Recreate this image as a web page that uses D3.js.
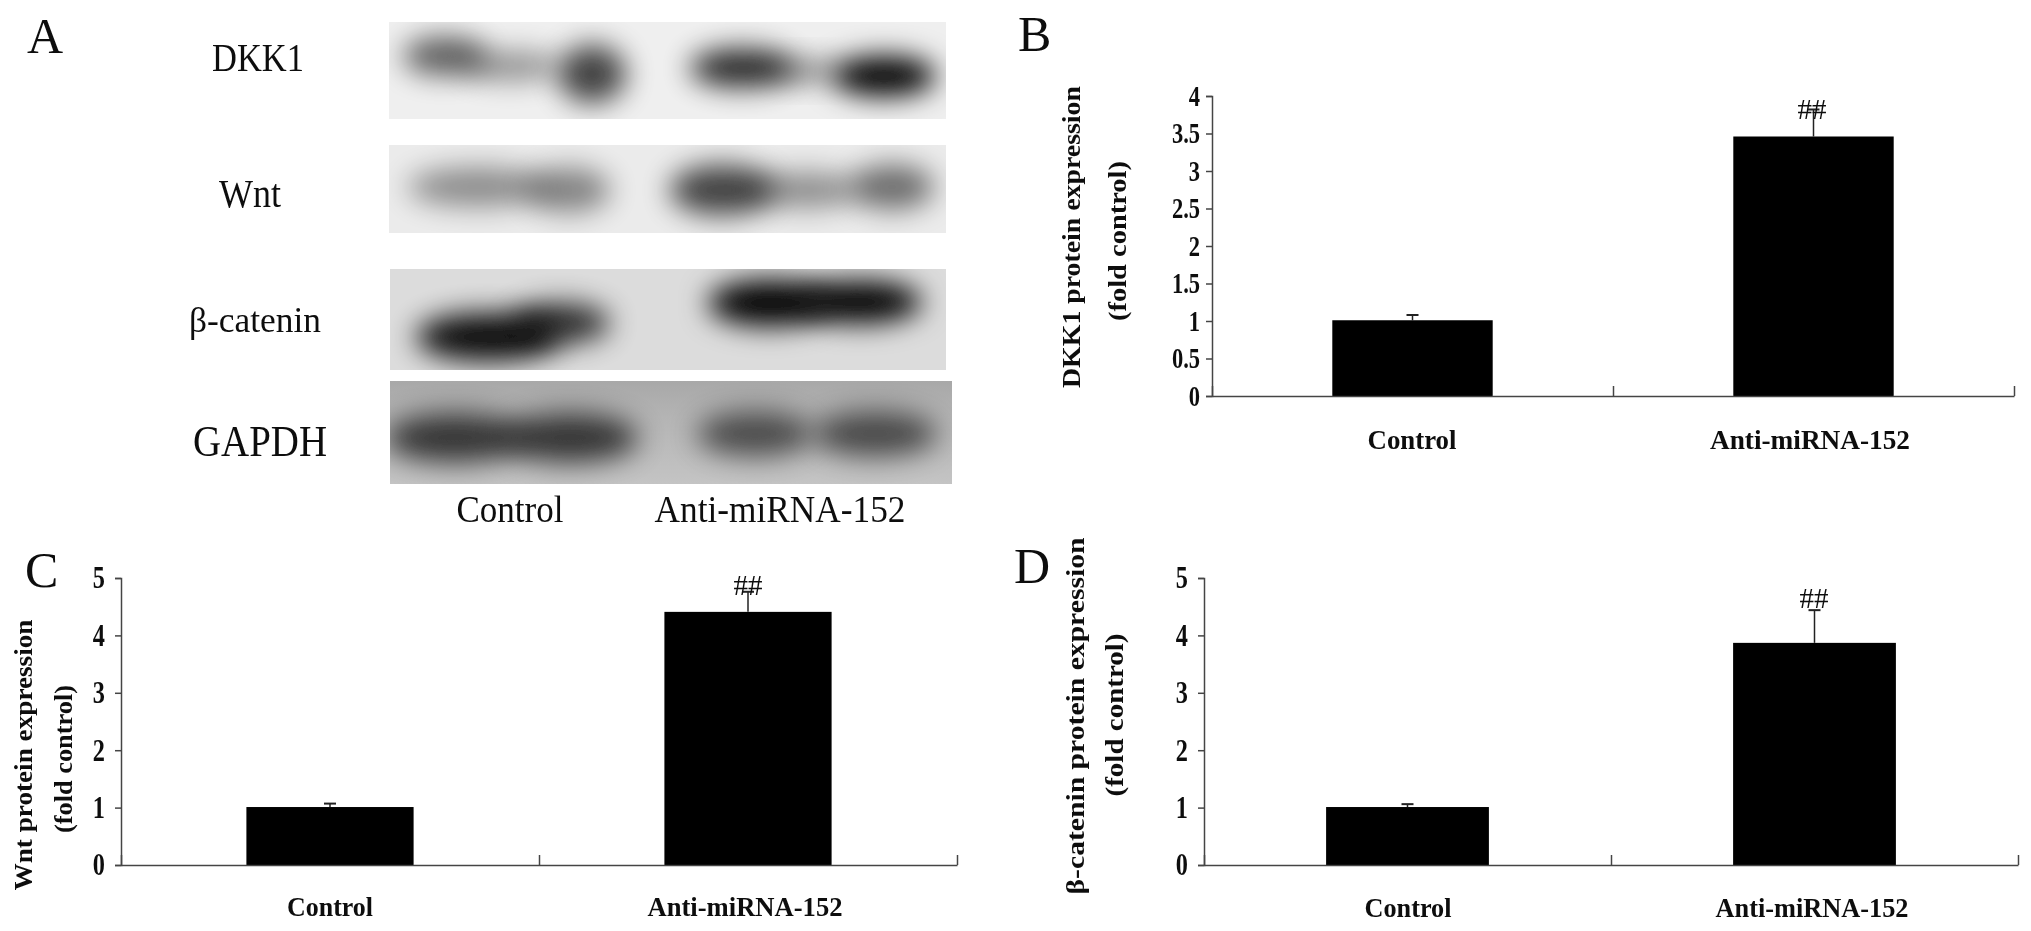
<!DOCTYPE html>
<html>
<head>
<meta charset="utf-8">
<script src="https://cdnjs.cloudflare.com/ajax/libs/d3/7.8.5/d3.min.js"></script>
<style>
html, body { margin: 0; padding: 0; background: #fff; }
svg { display: block; }
text { font-family: "Liberation Serif", serif; fill: #111; }
</style>
</head>
<body>
<div id="chart-area"></div>
<script>
var groups = ["Control", "Anti-miRNA-152"];

// fold control values
var dkk1Values = [1.01, 3.46];
var dkk1Errors = [0.07, 0.36];
var wntValues = [1.01, 4.41];
var wntErrors = [0.06, 0.35];
var cateninValues = [1.01, 3.87];
var cateninErrors = [0.05, 0.57];

var dkk1Ticks = [0, 0.5, 1, 1.5, 2, 2.5, 3, 3.5, 4];
var fiveTicks = [0, 1, 2, 3, 4, 5];

var blotNames = ["DKK1", "Wnt", "\u03b2-catenin", "GAPDH"];
// how dark each band patch on the film looks, 0 to 1
var dkk1Bands = [0.62, 0.42, 0.72, 0.85, 0.5, 1];
var wntBands = [0.42, 0.45, 0.72, 0.42, 0.55];
var cateninBands = [0.95, 0.8, 1, 1];
var gapdhBands = [0.72, 0.72, 0.6, 0.62];

var width = 2031, height = 931;

var svg = d3.select("#chart-area").append("svg")
    .attr("width", width)
    .attr("height", height);

var defs = svg.append("defs");
defs.append("filter").attr("id", "soft")
    .attr("x", "-5%").attr("y", "-5%").attr("width", "110%").attr("height", "110%")
    .append("feGaussianBlur").attr("stdDeviation", 0.6);
defs.append("filter").attr("id", "band")
    .attr("x", "-80%").attr("y", "-120%").attr("width", "260%").attr("height", "340%")
    .append("feGaussianBlur").attr("stdDeviation", 14);

var gapdhFade = defs.append("linearGradient").attr("id", "gapdhFade")
    .attr("x1", 0).attr("y1", 0).attr("x2", 0).attr("y2", 1);
gapdhFade.append("stop").attr("offset", 0).attr("stop-color", "#a8a8a8");
gapdhFade.append("stop").attr("offset", 0.35).attr("stop-color", "#b4b4b4");
gapdhFade.append("stop").attr("offset", 1).attr("stop-color", "#c4c4c4");

var page = svg.append("g").attr("filter", "url(#soft)");

// panel A, the blots
function drawBlot(i, box, bg, bands, spots) {
    var id = "clip" + i;
    defs.append("clipPath").attr("id", id).append("rect")
        .attr("x", box[0]).attr("y", box[1]).attr("width", box[2]).attr("height", box[3]);
    var g = page.append("g").attr("clip-path", "url(#" + id + ")");
    g.append("rect")
        .attr("x", box[0]).attr("y", box[1]).attr("width", box[2]).attr("height", box[3])
        .attr("fill", bg);
    g.selectAll("ellipse").data(bands).enter().append("ellipse")
        .attr("cx", function(d, k) { return spots[k][0]; })
        .attr("cy", function(d, k) { return spots[k][1]; })
        .attr("rx", function(d, k) { return spots[k][2]; })
        .attr("ry", function(d, k) { return spots[k][3]; })
        .attr("fill", "#000")
        .attr("opacity", function(d) { return d; })
        .attr("filter", "url(#band)");
}

drawBlot(0, [389, 22, 557, 97], "#efefef", dkk1Bands,
    [[445, 56, 42, 19], [510, 66, 50, 14], [592, 74, 34, 29], [742, 68, 52, 19], [806, 71, 36, 10], [884, 76, 52, 20]]);
drawBlot(1, [389, 145, 557, 88], "#ebebeb", wntBands,
    [[478, 187, 70, 19], [568, 190, 42, 22], [722, 190, 52, 25], [804, 190, 56, 17], [892, 187, 42, 22]]);
drawBlot(2, [390, 269, 556, 101], "#dcdcdc", cateninBands,
    [[488, 337, 72, 24], [560, 323, 50, 20], [770, 303, 62, 23], [860, 302, 62, 21]]);
drawBlot(3, [390, 381, 562, 103], "url(#gapdhFade)", gapdhBands,
    [[455, 438, 70, 24], [570, 438, 68, 24], [755, 434, 58, 22], [875, 434, 62, 22]]);

var blotLabelX = [258, 250, 255, 260];
var blotLabelY = [71, 207, 332, 456];
var blotLabelW = [92, 62, 132, 134];
var blotLabelS = [40, 40, 36, 44];
page.selectAll(".blot-name").data(blotNames).enter().append("text")
    .attr("class", "blot-name")
    .attr("x", function(d, i) { return blotLabelX[i]; })
    .attr("y", function(d, i) { return blotLabelY[i]; })
    .attr("text-anchor", "middle")
    .attr("font-size", function(d, i) { return blotLabelS[i]; })
    .attr("textLength", function(d, i) { return blotLabelW[i]; })
    .attr("lengthAdjust", "spacingAndGlyphs")
    .text(function(d) { return d; });

var laneX = [510, 780], laneW = [107, 251];
page.selectAll(".lane").data(groups).enter().append("text")
    .attr("class", "lane")
    .attr("x", function(d, i) { return laneX[i]; })
    .attr("y", 522)
    .attr("text-anchor", "middle")
    .attr("font-size", 38)
    .attr("textLength", function(d, i) { return laneW[i]; })
    .attr("lengthAdjust", "spacingAndGlyphs")
    .text(function(d) { return d; });

// bar panels
function barPanel(cfg) {
    var xScale = d3.scaleBand().domain(groups).range([cfg.x0, cfg.x1])
        .paddingInner(0.6).paddingOuter(0.3);
    var yScale = d3.scaleLinear().domain([0, cfg.max]).range([cfg.y0, cfg.y1]);
    var edge = d3.scaleLinear().domain([0, 2]).range([cfg.x0, cfg.x1]);
    var g = page.append("g");

    g.append("g").selectAll("line").data(cfg.values).enter().append("line")
        .attr("x1", function(d, i) { return xScale(groups[i]) + xScale.bandwidth() / 2; })
        .attr("x2", function(d, i) { return xScale(groups[i]) + xScale.bandwidth() / 2; })
        .attr("y1", function(d) { return yScale(d); })
        .attr("y2", function(d, i) { return yScale(d + cfg.errors[i]); })
        .attr("stroke", "#222").attr("stroke-width", 1.5);
    g.append("g").selectAll("line").data(cfg.values).enter().append("line")
        .attr("x1", function(d, i) { return xScale(groups[i]) + xScale.bandwidth() / 2 - 6; })
        .attr("x2", function(d, i) { return xScale(groups[i]) + xScale.bandwidth() / 2 + 6; })
        .attr("y1", function(d, i) { return yScale(d + cfg.errors[i]); })
        .attr("y2", function(d, i) { return yScale(d + cfg.errors[i]); })
        .attr("stroke", "#222").attr("stroke-width", 2);

    g.append("g").selectAll("rect").data(cfg.values).enter().append("rect")
        .attr("x", function(d, i) { return xScale(groups[i]); })
        .attr("y", function(d) { return yScale(d); })
        .attr("width", xScale.bandwidth())
        .attr("height", function(d) { return cfg.y0 - yScale(d); })
        .attr("fill", "#000");

    var yAxis = d3.axisLeft(yScale).tickValues(cfg.ticks).tickSize(6).tickPadding(cfg.pad)
        .tickFormat(function(d) { return d; });
    var yG = g.append("g").attr("transform", "translate(" + cfg.x0 + ",0)").call(yAxis);
    yG.selectAll("path, line").attr("stroke", "#444").attr("stroke-width", 1.5);
    yG.selectAll("text")
        .style("font-family", '"Liberation Serif", serif')
        .style("font-weight", "bold")
        .style("font-size", cfg.tickSize + "px")
        .attr("transform", function() {
            return "translate(" + (+d3.select(this).attr("x")) * 0.1 + ",0) scale(0.9,1.15)";
        });

    var xAxis = d3.axisTop(edge).tickValues([0, 1, 2]).tickSize(10).tickSizeOuter(0)
        .tickFormat(function() { return ""; });
    var xG = g.append("g").attr("transform", "translate(0," + cfg.y0 + ")").call(xAxis);
    xG.selectAll("path, line").attr("stroke", "#444").attr("stroke-width", 1.5);

    g.selectAll(".cat").data(groups).enter().append("text")
        .attr("class", "cat")
        .attr("x", function(d, i) { return cfg.catX[i]; })
        .attr("y", cfg.catY)
        .attr("text-anchor", "middle")
        .attr("font-weight", "bold")
        .attr("font-size", 28)
        .attr("textLength", function(d, i) { return cfg.catW[i]; })
        .attr("lengthAdjust", "spacingAndGlyphs")
        .text(function(d) { return d; });

    g.append("text")
        .attr("x", cfg.hash[0]).attr("y", cfg.hash[1])
        .attr("text-anchor", "middle")
        .attr("font-size", 29)
        .attr("textLength", 29)
        .attr("lengthAdjust", "spacingAndGlyphs")
        .text("##");

    cfg.title.forEach(function(t) {
        g.append("text")
            .attr("transform", "translate(" + t.x + "," + t.y + ") rotate(-90)")
            .attr("text-anchor", "middle")
            .attr("font-weight", "bold")
            .attr("font-size", 25)
            .attr("textLength", t.w)
            .attr("lengthAdjust", "spacingAndGlyphs")
            .text(t.s);
    });
}

barPanel({
    x0: 1212, x1: 2014, y0: 396, y1: 96, max: 4, pad: 6, tickSize: 25,
    values: dkk1Values, errors: dkk1Errors, ticks: dkk1Ticks,
    catX: [1412, 1810], catW: [89, 200], catY: 449,
    hash: [1812, 119],
    title: [{ s: "DKK1 protein expression", x: 1080, y: 237, w: 302 },
             { s: "(fold control)", x: 1126, y: 241, w: 160 }]
});
barPanel({
    x0: 121, x1: 957, y0: 865, y1: 578, max: 5, pad: 10, tickSize: 27,
    values: wntValues, errors: wntErrors, ticks: fiveTicks,
    catX: [330, 745], catW: [86, 195], catY: 916,
    hash: [748, 595],
    title: [{ s: "Wnt protein expression", x: 32, y: 755, w: 271 },
             { s: "(fold control)", x: 72, y: 759, w: 148 }]
});
barPanel({
    x0: 1204, x1: 2018, y0: 865, y1: 578, max: 5, pad: 10, tickSize: 27,
    values: cateninValues, errors: cateninErrors, ticks: fiveTicks,
    catX: [1408, 1812], catW: [87, 193], catY: 917,
    hash: [1814, 608],
    title: [{ s: "\u03b2-catenin protein expression", x: 1084, y: 716, w: 357 },
             { s: "(fold control)", x: 1123, y: 715, w: 163 }]
});

// panel letters
var letters = ["A", "B", "C", "D"];
var letterX = [27, 1018, 25, 1014];
var letterY = [53, 51, 587, 583];
page.selectAll(".letter").data(letters).enter().append("text")
    .attr("class", "letter")
    .attr("x", function(d, i) { return letterX[i]; })
    .attr("y", function(d, i) { return letterY[i]; })
    .attr("font-size", 50)
    .text(function(d) { return d; });
</script>
</body>
</html>
